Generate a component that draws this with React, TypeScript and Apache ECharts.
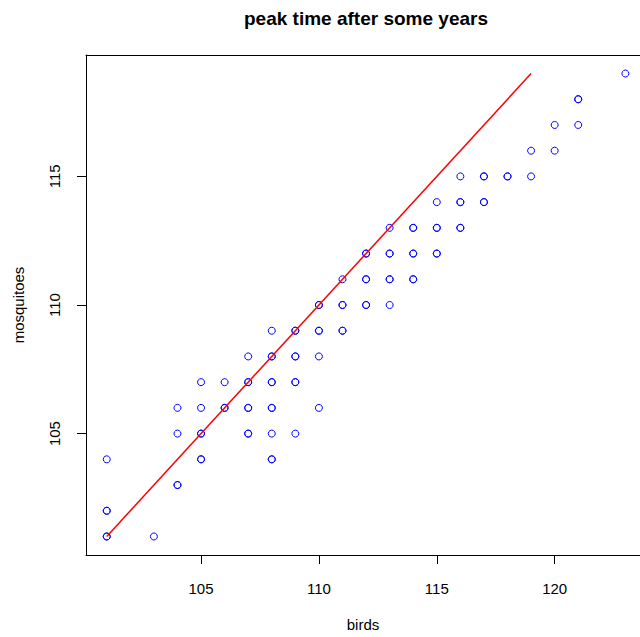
import React, { useEffect, useRef } from "react";
import * as echarts from "echarts";

const titleText = "peak time after some years";
const xLabel = "birds";
const yLabel = "mosquitoes";

const xTicks = [105, 110, 115, 120];
const yTicks = [105, 110, 115];

const birds = [
  101, 101, 101, 101, 101,
  103,
  104, 104, 104, 104,
  105, 105, 105, 105, 105, 105,
  106, 106, 106,
  107, 107, 107, 107, 107, 107, 107,
  108, 108, 108, 108, 108, 108, 108, 108, 108, 108,
  109, 109, 109, 109, 109, 109, 109,
  110, 110, 110, 110, 110, 110,
  111, 111, 111, 111, 111,
  112, 112, 112, 112, 112, 112,
  113, 113, 113, 113, 113, 113,
  114, 114, 114, 114, 114, 114,
  115, 115, 115, 115, 115,
  116, 116, 116, 116, 116,
  117, 117, 117, 117,
  118, 118,
  119, 119,
  120, 120,
  121, 121, 121,
  123,
];

const mosquitoes = [
  104, 102, 102, 101, 101,
  101,
  106, 105, 103, 103,
  107, 106, 105, 105, 104, 104,
  107, 106, 106,
  108, 107, 107, 106, 106, 105, 105,
  109, 108, 108, 107, 107, 106, 106, 105, 104, 104,
  109, 109, 108, 108, 107, 107, 105,
  110, 110, 109, 109, 108, 106,
  111, 110, 110, 109, 109,
  112, 112, 111, 111, 110, 110,
  113, 112, 112, 111, 111, 110,
  113, 113, 112, 112, 111, 111,
  114, 113, 113, 112, 112,
  115, 114, 114, 113, 113,
  115, 115, 114, 114,
  115, 115,
  116, 115,
  117, 116,
  118, 118, 117,
  119,
];

const lineX = [101, 119];
const lineY = [101, 119];

const FONT = "'Liberation Sans', Arial, Helvetica, sans-serif";

export default function App() {
  const ref = useRef<HTMLDivElement>(null);
  useEffect(() => {
    if (!ref.current) return;
    const chart = echarts.init(ref.current, null, { renderer: "svg" });
    const points = birds.map((b, i) => [b, mosquitoes[i]]);
    const line = lineX.map((x, i) => [x, lineY[i]]);
    const X_MIN = 100.12;
    const X_MAX = 123.62;
    chart.setOption({
      animation: false,
      backgroundColor: "#ffffff",
      grid: {
        left: 86,
        top: 55,
        width: 554,
        height: 501,
        show: false,
      },
      graphic: [
        {
          type: "text",
          x: 366,
          y: 18,
          style: {
            text: titleText,
            textAlign: "center",
            textVerticalAlign: "middle",
            font: `bold 19px ${FONT}`,
            fill: "#000000",
          },
        },
      ],
      xAxis: [
        {
          type: "value",
          min: X_MIN,
          max: X_MAX,
          name: xLabel,
          nameLocation: "middle",
          nameGap: 62,
          nameTextStyle: { fontSize: 15, fontFamily: FONT, color: "#000" },
          axisLine: { show: true, lineStyle: { color: "#000", width: 1 } },
          axisTick: {
            show: true,
            length: 9,
            customValues: xTicks,
            lineStyle: { color: "#000", width: 1 },
          },
          axisLabel: {
            customValues: xTicks,
            margin: 26,
            fontSize: 15,
            fontFamily: FONT,
            color: "#000",
          },
          splitLine: { show: false },
        },
        {
          type: "value",
          position: "top",
          min: X_MIN,
          max: X_MAX,
          axisLine: { show: true, onZero: false, lineStyle: { color: "#000", width: 1 } },
          axisTick: { show: false },
          axisLabel: { show: false },
          splitLine: { show: false },
        },
      ],
      yAxis: {
        type: "value",
        min: 100.28,
        max: 119.72,
        name: yLabel,
        nameLocation: "middle",
        nameGap: 60,
        nameRotate: 90,
        nameTextStyle: { fontSize: 15, fontFamily: FONT, color: "#000" },
        axisLine: { show: true, lineStyle: { color: "#000", width: 1 } },
        axisTick: {
          show: true,
          length: 9,
          customValues: yTicks,
          lineStyle: { color: "#000", width: 1 },
        },
        axisLabel: {
          customValues: yTicks,
          rotate: 90,
          margin: 24,
          fontSize: 15,
          fontFamily: FONT,
          color: "#000",
        },
        splitLine: { show: false },
      },
      series: [
        {
          type: "scatter",
          data: points,
          symbol: "circle",
          symbolSize: 7,
          itemStyle: {
            color: "transparent",
            borderColor: "#0000ff",
            borderWidth: 1,
            opacity: 1,
          },
          emphasis: { disabled: true },
          z: 3,
        },
        {
          type: "line",
          data: line,
          symbol: "none",
          lineStyle: { color: "#ff0000", width: 1.5 },
          emphasis: { disabled: true },
          z: 4,
        },
      ],
    });
    return () => chart.dispose();
  }, []);
  return (
    <div
      ref={ref}
      style={{ position: "fixed", left: 0, top: 0, width: 640, height: 637 }}
    />
  );
}
